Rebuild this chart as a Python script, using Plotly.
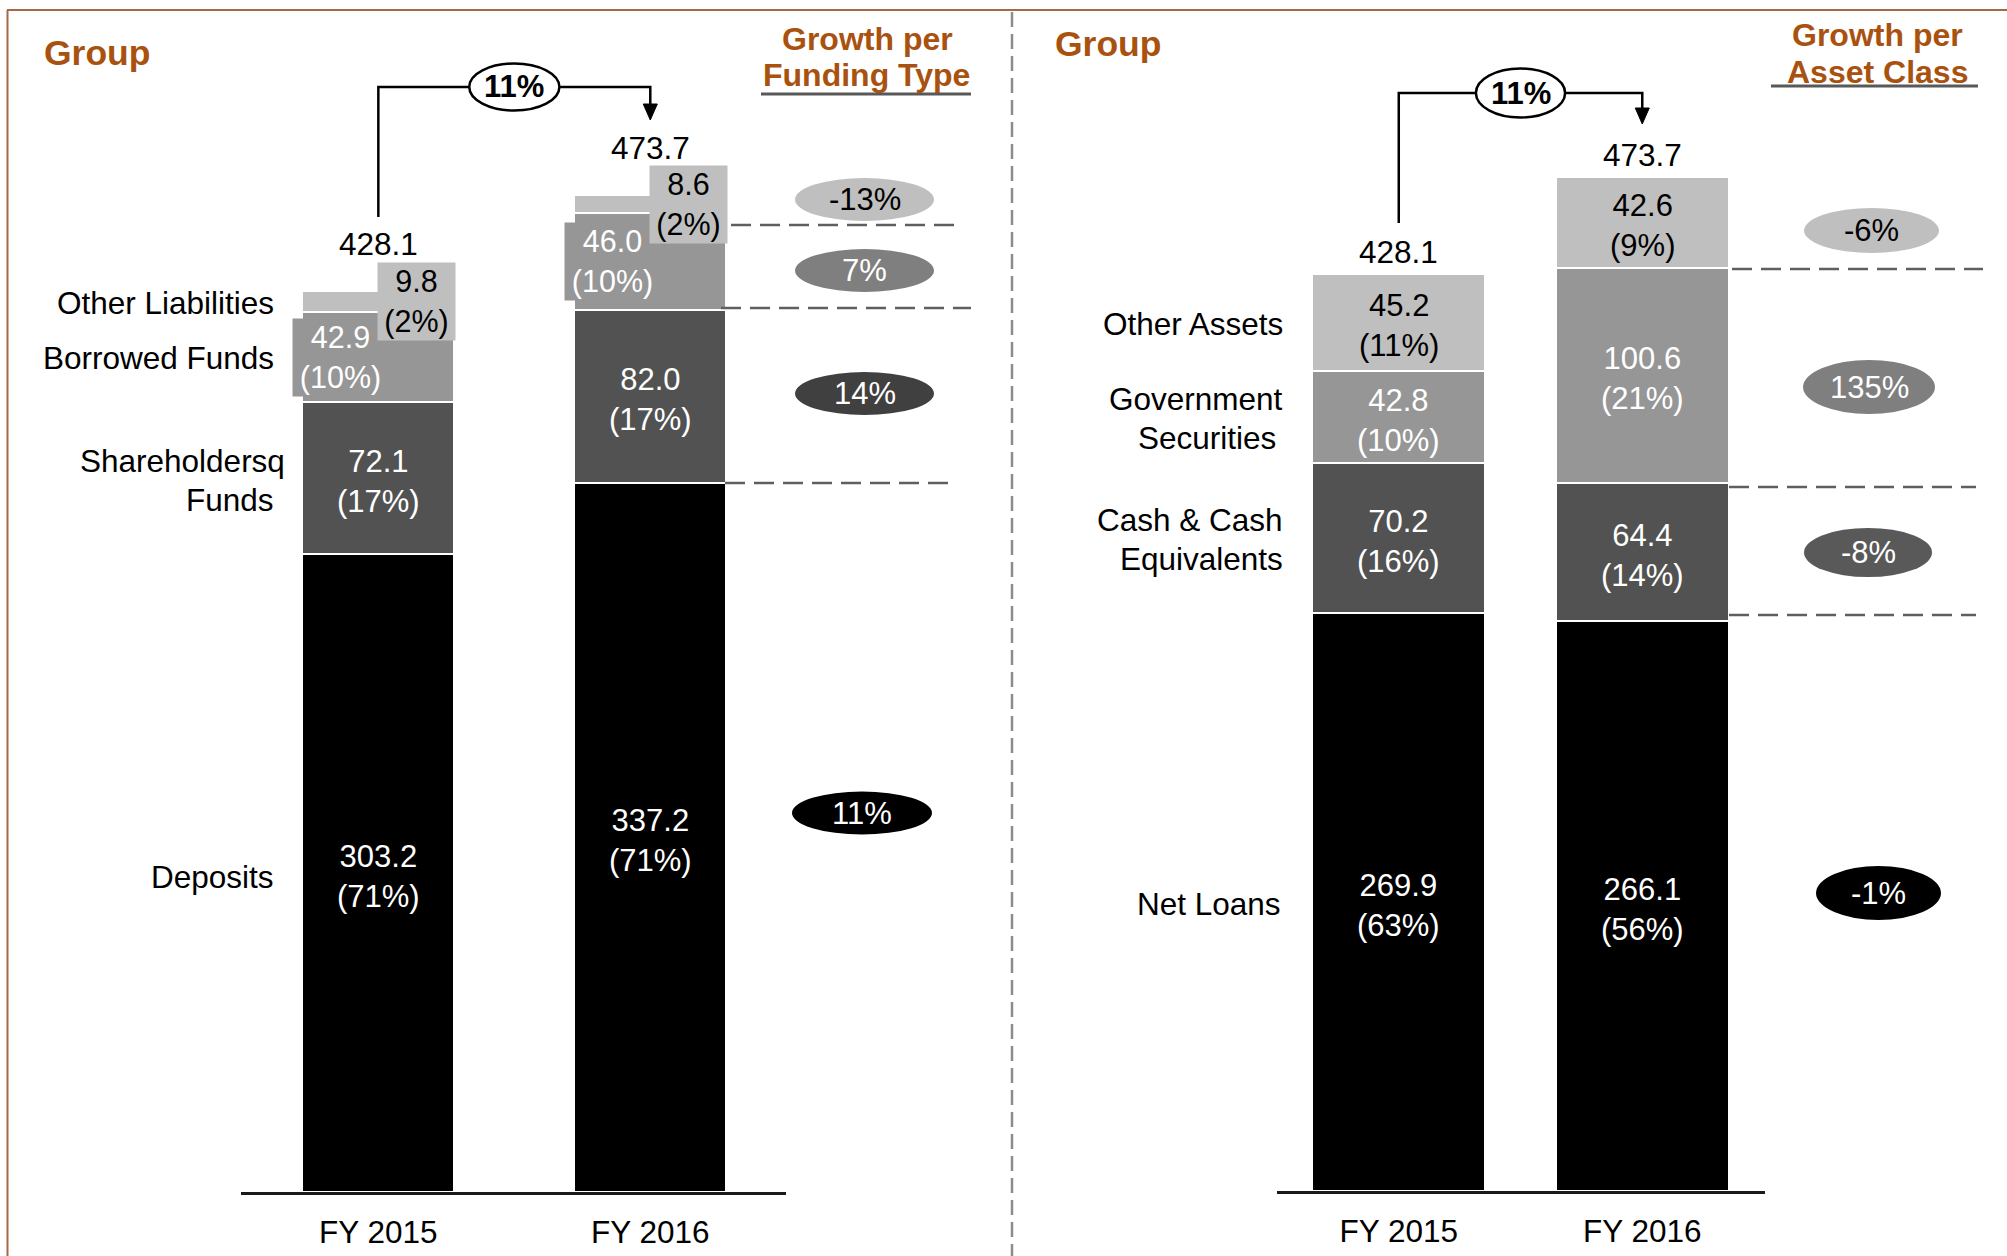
import plotly.graph_objects as go

W, H = 2007, 1256
FONT = "Liberation Sans, Arial, sans-serif"
BROWN = "#A9520F"
FRAME = "#A36A46"

# ---------------- data ----------------
years = ["FY 2015", "FY 2016"]

# Funding side
deposits = [303.2, 337.2]
shareholders_funds = [72.1, 82.0]
borrowed_funds = [42.9, 46.0]
other_liabilities = [9.8, 8.6]
funding_totals = [428.1, 473.7]
funding_growth = ["11%", "14%", "7%", "-13%"]   # deposits, shareholders, borrowed, other

# Asset side
net_loans = [269.9, 266.1]
cash_equivalents = [70.2, 64.4]
government_securities = [42.8, 100.6]
other_assets = [45.2, 42.6]
asset_totals = [428.1, 473.7]
asset_growth = ["-1%", "-8%", "135%", "-6%"]     # loans, cash, government, other

total_growth = "11%"

# ---------------- helpers ----------------
def px(x):
    return x / W


def py(y):
    return 1 - y / H


def share(v, tot):
    return round(v / tot * 100)


BLACK, DARK, MID, LIGHT = "#000000", "#525252", "#969696", "#bfbfbf"

fig = go.Figure()

# left panel scale: 2.104 px per unit, baseline at y=1192; bars 271.5 px apart
L_PPU, L_BASE, L_STEP = 2.104, 1192, 271.5
R_PPU, R_BASE, R_STEP = 2.141, 1191, 243.0

left_series = [
    ("Deposits", deposits, BLACK),
    ("Shareholders Funds", shareholders_funds, DARK),
    ("Borrowed Funds", borrowed_funds, MID),
    ("Other Liabilities", other_liabilities, LIGHT),
]
right_series = [
    ("Net Loans", net_loans, BLACK),
    ("Cash & Cash Equivalents", cash_equivalents, DARK),
    ("Government Securities", government_securities, MID),
    ("Other Assets", other_assets, LIGHT),
]

for name, vals, col in left_series:
    fig.add_trace(go.Bar(
        x=[0, 1], y=vals, name=name, width=152 / L_STEP,
        marker=dict(color=col, line=dict(color="white", width=2)),
        xaxis="x", yaxis="y", hoverinfo="skip"))

for name, vals, col in right_series:
    fig.add_trace(go.Bar(
        x=[0, 1], y=vals, name=name, width=173 / R_STEP,
        marker=dict(color=col, line=dict(color="white", width=2)),
        xaxis="x2", yaxis="y2", hoverinfo="skip"))

ann = []
shapes = []


def txt(text, x, y, size=31.5, color="black", bold=False, xanchor="center",
        xref="paper", yref="paper", **kw):
    if bold:
        text = "<b>" + text + "</b>"
    d = dict(text=text, x=x, y=y, xref=xref, yref=yref, showarrow=False,
             xanchor=xanchor, yanchor="middle",
             font=dict(family=FONT, size=size, color=color))
    d.update(kw)
    ann.append(d)


# ---------------- segment labels ----------------
def segment_labels(series, totals, xref, yref, boxed=None):
    for i in range(2):
        base = 0
        for k, (name, vals, col) in enumerate(series):
            v = vals[i]
            mid = base + v / 2
            base += v
            label = f"{v:.1f}<br>({share(v, totals[i])}%)"
            fcol = "black" if col == LIGHT else "white"
            if boxed and k in boxed:
                shift, wbox = boxed[k]
                txt(label, i, mid, color=fcol, xref=xref, yref=yref,
                    xshift=shift, bgcolor=col, width=wbox, height=77,
                    borderpad=0, size=30.5)
            else:
                txt(label, i, mid, color=fcol, xref=xref, yref=yref, yshift=-3, size=31)


# small top segments on the funding side carry offset label boxes
segment_labels(left_series, funding_totals, "x", "y",
               boxed={2: (-38, 95), 3: (38.5, 77)})
segment_labels(right_series, asset_totals, "x2", "y2")

# totals above bars
for i in range(2):
    txt(f"{funding_totals[i]:.1f}", i, funding_totals[i], xref="x", yref="y", yshift=47)
    txt(f"{asset_totals[i]:.1f}", i, asset_totals[i], xref="x2", yref="y2", yshift=22)

# ---------------- category labels ----------------
left_cats = [("Other Liabilities", 276, 303), ("Borrowed Funds", 276, 358),
             ("Shareholdersq", 287, 461), ("Funds", 276, 500), ("Deposits", 276, 877)]
right_cats = [("Other Assets", 1284.5, 323.5), ("Government", 1284.5, 399),
              ("Securities", 1277.5, 437.5), ("Cash &amp; Cash", 1284.5, 520),
              ("Equivalents", 1284.5, 558.5), ("Net Loans", 1283, 904)]
for t, x, y in left_cats + right_cats:
    txt(t, px(x), py(y), xanchor="right")

# ---------------- headings ----------------
txt("Group", px(42), py(53), size=35.5, color=BROWN, bold=True, xanchor="left")
txt("Group", px(1053), py(44), size=35.5, color=BROWN, bold=True, xanchor="left")
txt("Growth per", px(867.5), py(39), size=32, color=BROWN, bold=True)
txt("Funding Type", px(866), py(74.5), size=32, color=BROWN, bold=True)
txt("Growth per", px(1877), py(35), size=32, color=BROWN, bold=True)
txt("Asset Class", px(1877), py(72), size=32, color=BROWN, bold=True)
shapes.append(dict(type="line", xref="paper", yref="paper", x0=px(761), x1=px(971),
                   y0=py(94), y1=py(94), line=dict(color="#595959", width=3)))
shapes.append(dict(type="line", xref="paper", yref="paper", x0=px(1771), x1=px(1978),
                   y0=py(86), y1=py(86), line=dict(color="#595959", width=3)))

# ---------------- frame and separator ----------------
shapes.append(dict(type="line", xref="paper", yref="paper", x0=px(7), x1=1,
                   y0=py(10), y1=py(10), line=dict(color=FRAME, width=2)))
shapes.append(dict(type="line", xref="paper", yref="paper", x0=px(7.5), x1=px(7.5),
                   y0=py(10), y1=0, line=dict(color=FRAME, width=2)))
shapes.append(dict(type="line", xref="paper", yref="paper", x0=px(1012), x1=px(1012),
                   y0=py(12), y1=0, line=dict(color="#8c8c8c", width=2.5, dash="15px,7px")))

# ---------------- total growth connectors ----------------
def connector(xref, step, y_start, y_top, y_tip, ell_cy, ell_w, ell_h):
    d = 7 / step
    shapes.append(dict(type="path", xref=xref, yref="paper",
                       path=f"M 0,{py(y_start)} V {py(y_top)} H 1 V {py(y_tip - 14)}",
                       line=dict(color="black", width=2.5)))
    shapes.append(dict(type="path", xref=xref, yref="paper",
                       path=f"M {1 - d},{py(y_tip - 16)} L {1 + d},{py(y_tip - 16)} L 1,{py(y_tip)} Z",
                       fillcolor="black", line=dict(color="black", width=1)))
    hw = ell_w / 2 / step
    shapes.append(dict(type="circle", xref=xref, yref="paper",
                       x0=0.5 - hw, x1=0.5 + hw, y0=py(ell_cy + ell_h / 2), y1=py(ell_cy - ell_h / 2),
                       fillcolor="white", line=dict(color="black", width=2.5)))
    txt(total_growth, 0.5, py(ell_cy), size=31, bold=True, xref=xref)


connector("x", L_STEP, 217, 87, 120, 87, 90, 47)
connector("x2", R_STEP, 223, 93, 124, 93, 89, 49)

# ---------------- growth ellipses ----------------
left_ell = [(862, 813, 140, 43), (864.5, 393.5, 139, 43),
            (864.5, 270.5, 139, 43), (864.5, 199.5, 139, 43)]
right_ell = [(1878.5, 893, 125, 54), (1868, 552.5, 128, 49),
             (1869, 387, 132, 54), (1871.5, 230.5, 135, 45)]
left_fill = [BLACK, "#404040", "#7f7f7f", LIGHT]
right_fill = [BLACK, "#595959", "#7f7f7f", LIGHT]

for growth, ells, fills in ((funding_growth, left_ell, left_fill),
                            (asset_growth, right_ell, right_fill)):
    for g, (cx, cy, w, h), f in zip(growth, ells, fills):
        shapes.append(dict(type="circle", xref="paper", yref="paper",
                           x0=px(cx - w / 2), x1=px(cx + w / 2),
                           y0=py(cy + h / 2), y1=py(cy - h / 2),
                           fillcolor=f, line=dict(width=0)))
        txt(g, px(cx), py(cy), size=31, color="black" if f == LIGHT else "white")

# ---------------- dashed guides ----------------
dashes = [(731, 957, 225), (721, 971, 308), (725, 950, 483),
          (1732, 1983, 269), (1729, 1976, 487), (1729, 1976, 615)]
for x0, x1, y in dashes:
    shapes.append(dict(type="line", xref="paper", yref="paper", x0=px(x0), x1=px(x1),
                       y0=py(y), y1=py(y),
                       line=dict(color="#5f5f5f", width=2.5, dash="20px,9px")))

axis_common = dict(tickvals=[0, 1], ticktext=years, showline=True, linecolor="#1a1a1a",
                   linewidth=2.5, ticks="", showgrid=False, zeroline=False,
                   tickfont=dict(family=FONT, size=31.5, color="black"),
                   ticklabelstandoff=10, fixedrange=True)
yaxis_common = dict(visible=False, showgrid=False, zeroline=False, fixedrange=True)

fig.update_layout(
    width=W, height=H, margin=dict(l=0, r=0, t=0, b=0),
    paper_bgcolor="white", plot_bgcolor="white",
    barmode="stack", showlegend=False,
    xaxis=dict(domain=[px(241), px(786)], range=[-0.505, 1.499], anchor="y", **axis_common),
    yaxis=dict(domain=[1 - L_BASE / H, 1], range=[0, L_BASE / L_PPU], anchor="x", **yaxis_common),
    xaxis2=dict(domain=[px(1277), px(1765)], range=[-0.5, 1.504], anchor="y2", **axis_common),
    yaxis2=dict(domain=[1 - R_BASE / H, 1], range=[0, R_BASE / R_PPU], anchor="x2", **yaxis_common),
    annotations=ann, shapes=shapes,
)

fig.write_html("out.html")
